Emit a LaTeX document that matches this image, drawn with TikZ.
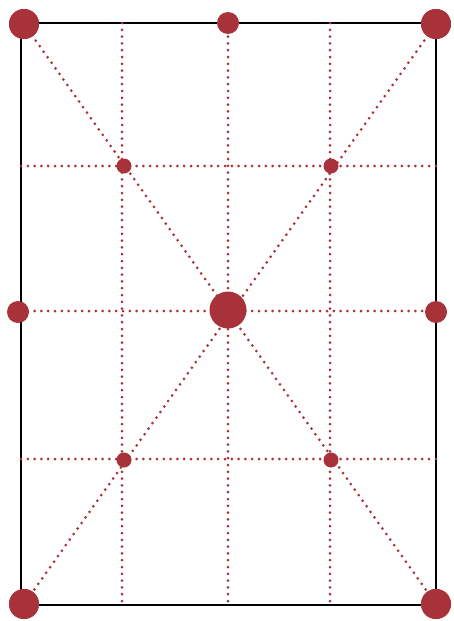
\documentclass[tikz,border=0pt]{standalone}
\usepackage{xcolor}
\usepackage{tikz}
\definecolor{thirdsred}{HTML}{A8323A}
\tikzset{
    guide/.style={thirdsred, line width=3pt, line cap=round, dash pattern=on 0pt off 6.8pt},
    dotbase/.style={circle, fill=thirdsred, inner sep=0pt},
    cornerdot/.style={dotbase, minimum size=30pt},
    edgedot/.style={dotbase, minimum size=22pt},
    centerdot/.style={dotbase, minimum size=37pt},
    crossdot/.style={dotbase, minimum size=15pt}
}

\begin{document}
\begin{tikzpicture}[x=1pt,y=-1pt]
    \useasboundingbox (0,0) rectangle (454,621);

    % frame corners and guide ends
    \coordinate (frametl) at (21,23);
    \coordinate (framebr) at (436,605);
    \coordinate (vonetop) at (122,23);
    \coordinate (vonebot) at (122,606);
    \coordinate (vtwotop) at (228,23);
    \coordinate (vtwobot) at (228,606);
    \coordinate (vthreetop) at (330,23);
    \coordinate (vthreebot) at (330,606);
    \coordinate (honeleft) at (21,166);
    \coordinate (honeright) at (440,166);
    \coordinate (htwoleft) at (21,311);
    \coordinate (htworight) at (440,311);
    \coordinate (hthreeleft) at (21,459);
    \coordinate (hthreeright) at (440,459);

    \draw[black, line width=1.5pt] (frametl) rectangle (framebr);

    \draw[guide] (vonetop) -- (vonebot);
    \draw[guide] (vtwotop) -- (vtwobot);
    \draw[guide] (vthreetop) -- (vthreebot);
    \draw[guide] (honeleft) -- (honeright);
    \draw[guide] (htwoleft) -- (htworight);
    \draw[guide] (hthreeleft) -- (hthreeright);

    \node[cornerdot] (dottl) at (24,24) {};
    \node[cornerdot] (dottr) at (436,24) {};
    \node[cornerdot] (dotbl) at (24,604) {};
    \node[cornerdot] (dotbr) at (436,604) {};

    \draw[guide] (dottl.center) -- (dotbr.center);
    \draw[guide] (dottr.center) -- (dotbl.center);

    \node[cornerdot] at (dottl) {};
    \node[cornerdot] at (dottr) {};
    \node[cornerdot] at (dotbl) {};
    \node[cornerdot] at (dotbr) {};
    \node[edgedot] (dottop) at (228,23) {};
    \node[edgedot] (dotleft) at (18,312) {};
    \node[edgedot] (dotright) at (436,312) {};
    \node[centerdot] (dotmid) at (228,310) {};
    \node[crossdot] (crossa) at (124,166) {};
    \node[crossdot] (crossb) at (331,166) {};
    \node[crossdot] (crossc) at (124,460) {};
    \node[crossdot] (crossd) at (331,460) {};
\end{tikzpicture}
\end{document}
